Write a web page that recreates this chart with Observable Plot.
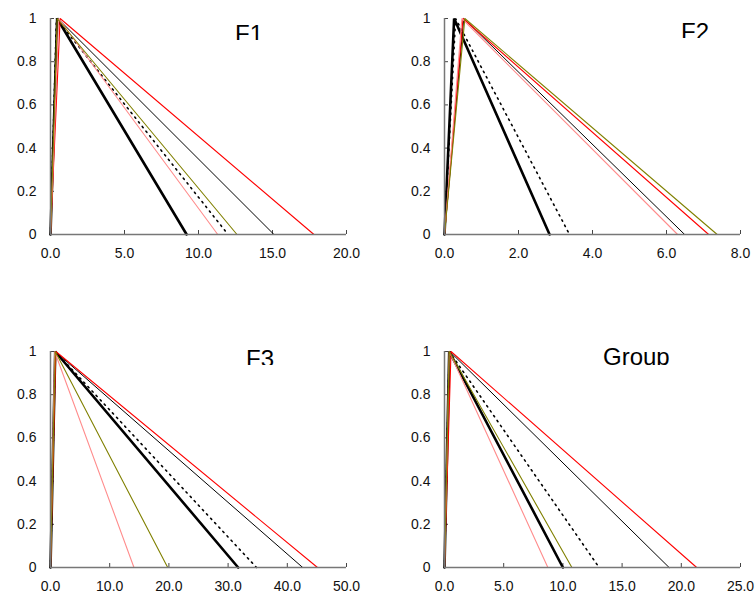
<!DOCTYPE html>
<html><head><meta charset="utf-8">
<script src="https://cdn.jsdelivr.net/npm/d3@7"></script>
<script src="https://cdn.jsdelivr.net/npm/@observablehq/plot@0.6"></script>
<style>
body{margin:0;background:#fff;}
#root{position:relative;width:756px;height:603px;overflow:hidden;background:#fff;}
.panel{position:absolute;}
.title{position:absolute;overflow:hidden;font:24px "Liberation Sans",Arial,sans-serif;line-height:24px;color:#000;white-space:nowrap;}
</style></head><body><div id="root"></div>
<script>
// ---- data ----
const panelNames = ["F1", "F2", "F3", "Group"];
const seriesNames = ["thick black", "thin black", "dotted black", "red", "pink", "olive"];
// triangle: rises from 0 to 1 at peak, falls back to 0 at end
const peakF1 = [0.45, 0.5, 0.4, 0.65, 0.55, 0.45];
const endF1  = [9.2, 15.1, 12.0, 17.8, 11.3, 12.6];
const peakF2 = [0.26, 0.52, 0.3, 0.5, 0.47, 0.55];
const endF2  = [2.84, 6.49, 3.38, 7.14, 6.3, 7.37];
const peakF3 = [0.8, 0.8, 0.8, 0.9, 0.7, 0.8];
const endF3  = [31.7, 42.6, 34.8, 45.1, 14.1, 19.8];
const peakGroup = [0.4, 0.45, 0.4, 0.55, 0.4, 0.4];
const endGroup  = [10.0, 18.97, 13.06, 21.3, 8.73, 10.76];
const xMax  = [20, 8, 50, 25];
const xStep = [5, 2, 10, 5];
const yTicks = [0, 0.2, 0.4, 0.6, 0.8, 1];
const yTickLabels = ["0", "0.2", "0.4", "0.6", "0.8", "1"];

const peaks = [peakF1, peakF2, peakF3, peakGroup];
const ends = [endF1, endF2, endF3, endGroup];

// ---- styles ----
const seriesStroke = ["#000000", "#000000", "#000000", "#ff0000", "#ff8c8c", "#808000"];
const seriesWidth = [2.6, 1, 1.6, 1.1, 1.1, 1.1];
const seriesDash = [null, null, "1.5,4.5", null, null, null];

// ---- layout ----
const layout = [
  {left: 0,   top: 0,   width: 378, mr: 32, title: {x: 235, y: 22, h: 18}},
  {left: 394, top: 0,   width: 362, mr: 16, title: {x: 681, y: 20, h: 18}},
  {left: 0,   top: 333, width: 378, mr: 32, title: {x: 246, y: 347, h: 18}},
  {left: 394, top: 333, width: 362, mr: 16, title: {x: 603, y: 345, h: 20}}
];

const root = document.getElementById("root");
panelNames.forEach((name, p) => {
  const L = layout[p];
  const rows = [];
  seriesNames.forEach((s, i) => {
    rows.push({series: s, i, x: 0, y: 0});
    rows.push({series: s, i, x: peaks[p][i], y: 1});
    rows.push({series: s, i, x: ends[p][i], y: 0});
  });
  const xt = d3.range(0, xMax[p] + xStep[p] / 2, xStep[p]);
  const lineMarks = seriesNames.map((s, i) => Plot.line(rows.filter(r => r.i === i), {
    x: "x", y: "y", stroke: seriesStroke[i], strokeWidth: seriesWidth[i],
    strokeDasharray: seriesDash[i], strokeLinejoin: "miter"
  }));
  const chart = Plot.plot({
    width: L.width, height: 270,
    marginLeft: 50, marginRight: L.mr, marginTop: 18, marginBottom: 36,
    style: {fontFamily: '"Liberation Sans", Arial, sans-serif', fontSize: "14px", color: "#111", background: "#fff"},
    x: {domain: [0, xMax[p]]},
    y: {domain: [0, 1]},
    marks: [
      Plot.axisX({ticks: xt, tickFormat: d3.format(".1f"), tickSize: -4, tickPadding: 18, stroke: "#444", label: null}),
      Plot.axisY({ticks: yTicks, tickFormat: (d, k) => yTickLabels[k], tickSize: -4, tickPadding: 18, stroke: "#444", label: null}),
      ...lineMarks,
      Plot.ruleY([0], {stroke: "#777", strokeWidth: 1.5}),
      Plot.ruleX([0], {stroke: "#777", strokeWidth: 1.5})
    ]
  });
  const wrap = document.createElement("div");
  wrap.className = "panel";
  wrap.style.left = L.left + "px";
  wrap.style.top = L.top + "px";
  wrap.appendChild(chart);
  root.appendChild(wrap);
  const t = document.createElement("div");
  t.className = "title";
  t.style.left = L.title.x + "px";
  t.style.top = L.title.y + "px";
  t.style.height = L.title.h + "px";
  t.textContent = name;
  root.appendChild(t);
});
</script></body></html>
